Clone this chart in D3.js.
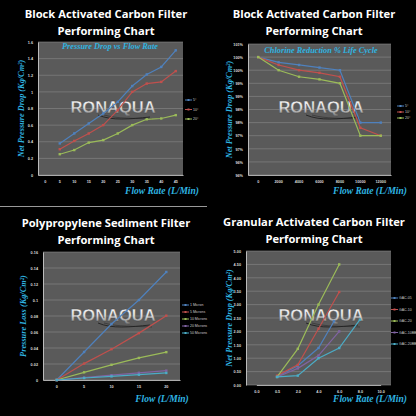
<!DOCTYPE html>
<html><head><meta charset="utf-8">
<script src="https://cdn.jsdelivr.net/npm/d3@7"></script>
<style>body{margin:0;background:#000}svg{display:block}</style>
</head><body>
<svg id="c" width="416" height="416"></svg>
<script>
// ---- Chart 1 data ----
const c1Cats = ["0","5","10","15","20","25","30","35","40","45"];
const c1X = ["5","10","15","20","25","30","35","40","45"];
const c1Names = ["5°","10°","20°"];
const c1Blue = [0.38,0.5,0.62,0.74,0.88,1.07,1.21,1.3,1.5];
const c1Red = [0.31,0.41,0.5,0.6,0.78,1.0,1.1,1.12,1.25];
const c1Green = [0.25,0.3,0.39,0.42,0.5,0.6,0.67,0.68,0.72];
const c1YTicks = [0,0.2,0.4,0.6,0.8,1,1.2,1.4,1.6];
// ---- Chart 2 data ----
const c2Cats = ["0","2000","4000","6000","8000","10000","12000"];
const c2Names = ["5°","10°","20°"];
const c2Blue = [100,99.8,99.7,99.6,99.5,97.5,97.5];
const c2Red = [100,99.7,99.5,99.4,99.25,97.3,97.0];
const c2Green = [100,99.5,99.25,99.15,99.0,97.0,97.0];
const c2YTicks = [95.5,96,96.5,97,97.5,98,98.5,99,99.5,100,100.5];
// ---- Chart 3 data ----
const c3Cats = ["0","5","10","15","20"];
const c3Names = ["1 Micron","5 Microns","10 Microns","20 Microns","50 Microns"];
const c3S1 = [0,0.035,0.07,0.1,0.135];
const c3S2 = [0,0.0205,0.0385,0.0586,0.0804];
const c3S3 = [0,0.0096,0.019,0.0276,0.0348];
const c3S4 = [0,0.003,0.006,0.009,0.0117];
const c3S5 = [0,0.0025,0.0045,0.0066,0.0088];
const c3YTicks = [0,0.02,0.04,0.06,0.08,0.1,0.12,0.14,0.16];
// ---- Chart 4 data ----
const c4Cats = [0,0.5,2,4,6,8,10];
const c4Names = ["GAC-05","GAC-10","GAC-20","GAC-10BB","GAC-20BB"];
const c4S1 = [[0.5,0.32],[2,0.72],[4,1.38],[5.5,2.38]];
const c4S2 = [[0.5,0.35],[2,0.75],[4,2.1],[6,3.47]];
const c4S3 = [[0.5,0.3],[2,1.35],[4,3.0],[6,4.5]];
const c4S4 = [[0.5,0.3],[2,0.62],[4,1.1],[6,2.0]];
const c4S5 = [[0.5,0.3],[2,0.35],[4,1.0],[6,1.38],[8,2.44]];
const c4YTicks = [0,0.5,1,1.5,2,2.5,3,3.5,4,4.5,5];

const COLORS = ["#4f81bd","#c0504d","#9bbb59","#8064a2","#4bacc6"];
const svg = d3.select("#c");
svg.append("rect").attr("width",416).attr("height",416).attr("fill","#000");
const defs = svg.append("defs");
const gr = defs.append("linearGradient").attr("id","wm").attr("x1",0).attr("y1",0).attr("x2",0).attr("y2",1);
gr.append("stop").attr("offset","0%").attr("stop-color","#fff");
gr.append("stop").attr("offset","55%").attr("stop-color","#ddd");
gr.append("stop").attr("offset","100%").attr("stop-color","#777");

function chart(o){
  const g = svg.append("g").attr("transform",`translate(${o.ox},${o.oy})`);
  const t = g.append("text").attr("x",104).attr("text-anchor","middle").attr("fill","#fff")
    .attr("font-family","Open Sans").attr("font-weight","bold").attr("font-size",11.2);
  t.append("tspan").attr("x",106).attr("y",o.t1y).text(o.t1);
  t.append("tspan").attr("x",106).attr("y",o.t1y+17).text("Performing Chart");
  const [x0,x1,y0,y1] = o.box;
  g.append("rect").attr("x",x0).attr("y",y0).attr("width",x1-x0).attr("height",y1-y0).attr("fill","#5a5a5a");
  const y = d3.scaleLinear().domain(d3.extent(o.yTicks)).range([y1,y0]);
  let xpos;
  const styleAx=a=>{a.select(".domain").attr("stroke","#bbb");a.selectAll("text").attr("fill","#ddd").attr("font-size",3.8).attr("font-weight","bold");};
  if(o.linearX){
    const bw=(x1-x0)/o.cats.length;
    const xs=d3.scaleLinear().domain(o.cats).range(o.cats.map((d,i)=>x0+bw*(i+0.5)));
    xpos=xs;
    g.append("g").attr("transform",`translate(0,${y1})`).call(d3.axisBottom(xs).tickValues(o.cats).tickFormat(d3.format(".1f")).tickSize(0))
      .call(styleAx).call(a=>a.selectAll("text").attr("dy",5));
  } else {
    const xb=d3.scaleBand().domain(o.cats).range([x0,x1]);
    xpos=d=>xb(d)+xb.bandwidth()/2;
    g.append("g").attr("transform",`translate(0,${y1})`).call(d3.axisBottom(xb).tickSize(0))
      .call(styleAx).call(a=>a.selectAll("text").attr("dy",5));
  }
  g.append("g").selectAll("line").data(o.yTicks).join("line").attr("x1",x0).attr("x2",x1)
    .attr("y1",d=>y(d)).attr("y2",d=>y(d)).attr("stroke","#8a8a8a").attr("stroke-width",0.6);
  g.append("g").attr("transform",`translate(${x0},0)`).call(d3.axisLeft(y).tickValues(o.yTicks).tickFormat(o.yFmt).tickSize(0))
    .call(styleAx).call(a=>a.selectAll("text").attr("dx",-2));
  g.append("text").attr("x",113).attr("y",o.wmY).attr("text-anchor","middle").attr("font-family","Liberation Sans")
    .attr("font-weight","bold").attr("font-size",16.5).attr("fill","url(#wm)").attr("stroke","#444").attr("stroke-width",0.3).text("RONAQUA");
  g.append("path").attr("d",`M98,${o.wmY+2} C112,${o.wmY+8} 130,${o.wmY+6} 150,${o.wmY+4}`).attr("fill","none").attr("stroke","#111").attr("stroke-width",0.7);
  g.append("path").attr("d",`M104,${o.wmY+2} C118,${o.wmY+6} 134,${o.wmY+5} 152,${o.wmY+6}`).attr("fill","none").attr("stroke","#222").attr("stroke-width",0.5);
  const line=d3.line().x(d=>xpos(d[0])).y(d=>y(d[1]));
  o.series.forEach((s,i)=>{
    g.append("path").datum(s).attr("d",line).attr("fill","none").attr("stroke",COLORS[i]).attr("stroke-width",1.2);
    g.append("g").selectAll("rect").data(s).join("rect").attr("x",d=>xpos(d[0])-1.2).attr("y",d=>y(d[1])-1.2)
      .attr("width",2.4).attr("height",2.4).attr("fill",COLORS[i]);
  });
  o.names.forEach((n,i)=>{
    const ly=o.legY+i*o.legStep;
    g.append("line").attr("x1",o.legX).attr("x2",o.legX+7).attr("y1",ly).attr("y2",ly).attr("stroke",COLORS[i]).attr("stroke-width",1);
    g.append("rect").attr("x",o.legX+2.5).attr("y",ly-1).attr("width",2).attr("height",2).attr("fill",COLORS[i]);
    g.append("text").attr("x",o.legX+8).attr("y",ly+1.3).attr("fill","#ccc").attr("font-size",3.5).attr("font-family","Liberation Sans").text(n);
  });
  const cy="#2fb4e0";
  if(o.sub) g.append("text").attr("x",o.subX).attr("y",o.y0sub).attr("text-anchor","middle").attr("fill",cy)
    .attr("font-family","Liberation Serif").attr("font-style","italic").attr("font-weight","bold").attr("font-size",8.3).text(o.sub);
  g.append("text").attr("transform",`translate(${o.ytX},${(y0+y1)/2}) rotate(-90)`).attr("text-anchor","middle").attr("fill",cy)
    .attr("font-family","Liberation Serif").attr("font-style","italic").attr("font-weight","bold").attr("font-size",8.3).text(o.yTitle);
  g.append("text").attr("x",o.xtX).attr("y",o.xtY).attr("text-anchor","middle").attr("fill",cy)
    .attr("font-family","Liberation Serif").attr("font-style","italic").attr("font-weight","bold").attr("font-size",9.5).text(o.xTitle);
}
const zipC=(xs,vs)=>vs.map((v,i)=>[xs[i],v]);
chart({ox:0,oy:0,t1:"Block Activated Carbon Filter",t1y:18,box:[38,183,42,175],cats:c1Cats,yTicks:c1YTicks,
  yFmt:d3.format(""),series:[zipC(c1X,c1Blue),zipC(c1X,c1Red),zipC(c1X,c1Green)],names:c1Names,
  legX:185,legY:100,legStep:9.5,sub:"Pressure Drop vs Flow Rate",subX:110,y0sub:49,wmY:113,
  yTitle:"Net Pressure Drop (Kg/Cm²)",ytX:24,xTitle:"Flow Rate (L/Min)",xtX:162,xtY:194});
chart({ox:208,oy:0,t1:"Block Activated Carbon Filter",t1y:18,box:[40,183,44,175],cats:c2Cats,yTicks:c2YTicks,
  yFmt:d=>Math.round(d)+"%",series:[zipC(c2Cats,c2Blue),zipC(c2Cats,c2Red),zipC(c2Cats,c2Green)],names:c2Names,
  legX:189,legY:106,legStep:6,sub:"Chlorine Reduction % Life Cycle",subX:113,y0sub:53,wmY:113,
  yTitle:"Net Pressure Drop (Kg/Cm²)",ytX:24,xTitle:"Flow Rate (L/Min)",xtX:162,xtY:194});
chart({ox:0,oy:208,t1:"Polypropylene Sediment Filter",t1y:19,box:[43,180,44,172],cats:c3Cats,yTicks:c3YTicks,
  yFmt:d=>d===0?"0":d3.format("")(+d.toFixed(2)),series:[zipC(c3Cats,c3S1),zipC(c3Cats,c3S2),zipC(c3Cats,c3S3),zipC(c3Cats,c3S4),zipC(c3Cats,c3S5)],names:c3Names,
  legX:182,legY:97,legStep:7,wmY:113,
  yTitle:"Pressure Loss (Kg/Cm²)",ytX:26,xTitle:"Flow (L/Min)",xtX:162,xtY:194});
chart({ox:208,oy:208,t1:"Granular Activated Carbon Filter",t1y:18,box:[38,183,43,177],cats:c4Cats,linearX:true,yTicks:c4YTicks,
  yFmt:d3.format(".2f"),series:[c4S1,c4S2,c4S3,c4S4,c4S5],names:c4Names,
  legX:183,legY:90,legStep:11.5,wmY:113,
  yTitle:"Net Pressure Drop (Kg/Cm²)",ytX:24,xTitle:"Flow Rate (L/Min)",xtX:162,xtY:194});
svg.append("line").attr("x1",0).attr("x2",207).attr("y1",206.5).attr("y2",206.5).attr("stroke","#999").attr("stroke-width",1);
</script></body></html>
